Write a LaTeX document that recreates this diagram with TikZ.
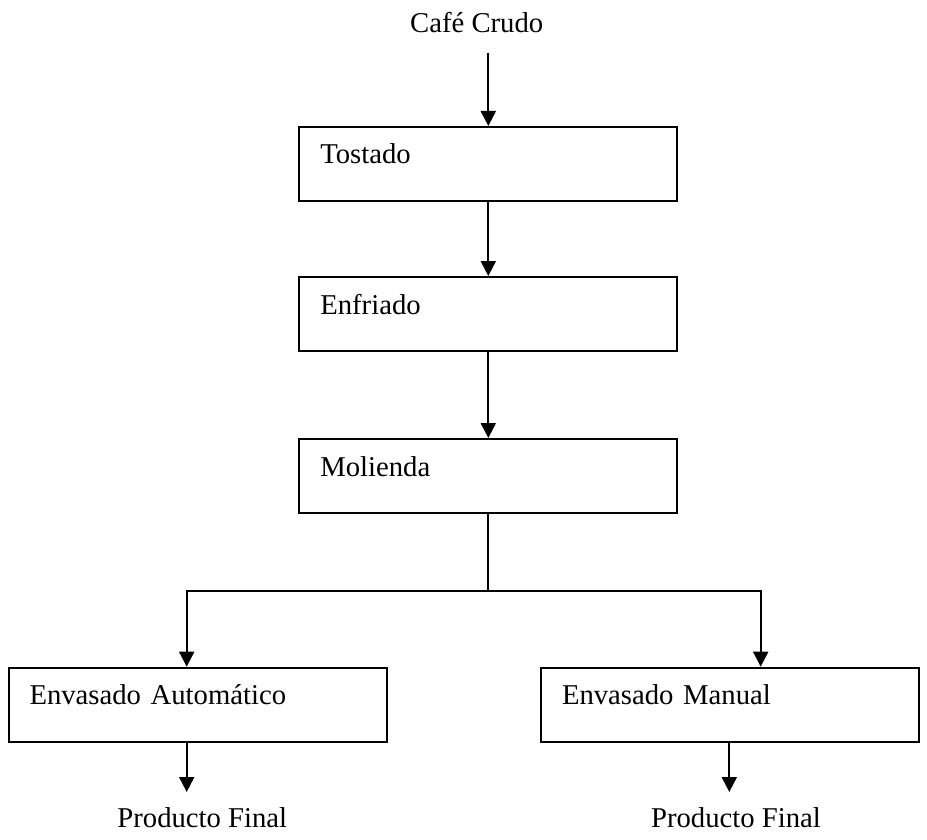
\documentclass[tikz,border=0pt]{standalone}
\usepackage{fontspec}
\setmainfont{Liberation Serif}
\usetikzlibrary{arrows.meta}
\begin{document}
\begin{tikzpicture}[x=1pt,y=-1pt,
  stage/.style={draw=black, line width=2pt, rectangle,
    minimum width=378pt, minimum height=74pt,
    inner xsep=21pt, inner ysep=0pt, text width=336pt, align=left,
    text height=0pt, text depth=0pt, font=\fontsize{28.7}{34}\selectfont},
  flowtext/.style={inner sep=0pt, font=\fontsize{28.7}{34}\selectfont},
  link/.style={line width=2pt, draw=black},
  arr/.style={link, -{Triangle[length=15pt,width=15pt]}}
]
\useasboundingbox (0,0) rectangle (927,840);

% process stages
\node[flowtext, anchor=base] (cafe) at (476.7,32.3) {Café Crudo};
\node[stage] (tostado) at (488.3,164) {Tostado};
\node[stage] (enfriado) at (488.3,314) {Enfriado};
\node[stage] (molienda) at (488.3,476) {Molienda};
\node[stage] (envAuto) at (197.5,704.7) {Envasado Automático};
\node[stage] (envMan) at (730,704.7) {Envasado Manual};
\node[flowtext, anchor=base] (finL) at (202.3,827.5) {Producto Final};
\node[flowtext, anchor=base] (finR) at (736,827.5) {Producto Final};

% branch points and free arrow ends
\coordinate (brL) at (186.7,590.7);
\coordinate (brR) at (760.7,590.7);
\coordinate (endL) at (186.7,792);
\coordinate (endR) at (729.3,792);

% connectors
\draw[arr, shorten <=20.4pt] (tostado.north |- cafe.base) -- (tostado.north);
\draw[arr] (tostado.south) -- (enfriado.north);
\draw[arr] (enfriado.south) -- (molienda.north);
\draw[link] (molienda.south) -- (molienda.south |- brL);
\draw[arr] (molienda.south |- brL) -- (brL) -- (envAuto.north -| brL);
\draw[arr] (molienda.south |- brL) -- (brR) -- (envMan.north -| brR);
\draw[arr] (envAuto.south -| endL) -- (endL);
\draw[arr] (envMan.south -| endR) -- (endR);
\end{tikzpicture}
\end{document}
